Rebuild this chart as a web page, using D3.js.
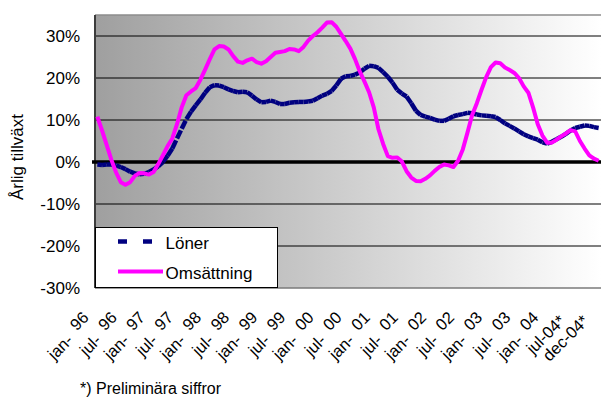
<!DOCTYPE html>
<html>
<head>
<meta charset="utf-8">
<script src="https://cdn.jsdelivr.net/npm/d3@7"></script>
<style>
  body { margin: 0; background: #fff; }
  svg { display: block; }
  text { font-family: "Liberation Sans", Arial, sans-serif; fill: #000; }
</style>
</head>
<body>
<svg id="chart" width="601" height="398"></svg>
<script>
// Monthly categories, jan 1996 – dec 2004
const months = d3.timeMonth.range(new Date(1996, 0, 1), new Date(2005, 0, 1));

// Annual growth, percent
const loner = [
  -0.6, -0.7, -0.6, -0.6, -0.8, -1.2, -1.7, -2.3, -2.7, -2.9, -2.8, -2.4,
  -1.8, -1.0, 0.0, 1.5, 3.2, 5.6, 7.9, 10.2, 12.0, 13.5, 14.9, 16.5,
  17.8, 18.3, 18.2, 17.8, 17.3, 16.9, 16.6, 16.7, 16.6, 15.8, 14.9, 14.2,
  14.3, 14.6, 14.3, 13.8, 13.8, 14.1, 14.2, 14.3, 14.3, 14.4, 14.6, 15.2,
  15.8, 16.2, 16.9, 18.2, 19.8, 20.4, 20.5, 20.8, 21.3, 22.2, 22.9, 22.8,
  22.4, 21.4, 20.3, 18.9, 17.2, 16.3, 15.6, 14.0, 12.2, 11.2, 10.8, 10.5,
  10.1, 9.8, 9.8, 10.3, 10.9, 11.2, 11.4, 11.7, 11.6, 11.3, 11.1, 11.0,
  10.9, 10.7, 10.0, 9.2, 8.6, 8.0, 7.3, 6.6, 6.1, 5.7, 5.3, 4.7,
  4.4, 4.8, 5.4, 6.0, 6.7, 7.5, 8.1, 8.4, 8.7, 8.6, 8.3, 8.1
];
const omsattning = [
  10.8, 7.5, 4.0, 0.5, -2.5, -4.8, -5.4, -4.8, -3.3, -2.6, -2.7, -3.0,
  -2.4, -0.5, 1.6, 3.8, 5.6, 9.0, 13.0, 15.9, 16.8, 17.6, 19.6, 22.0,
  24.5, 26.8, 27.6, 27.5, 26.8, 25.2, 23.9, 23.6, 24.2, 24.6, 23.8, 23.4,
  24.0, 25.0, 26.0, 26.2, 26.4, 26.9, 26.8, 26.4, 27.4, 28.9, 30.0, 30.9,
  32.0, 33.2, 33.3, 32.2, 30.5, 28.8, 27.0, 24.5, 21.6, 19.2, 16.6, 13.0,
  7.8, 4.3, 1.4, 1.0, 1.1, 0.1, -2.2, -3.7, -4.5, -4.6, -4.0, -3.2,
  -2.1, -1.2, -0.6, -0.8, -1.2, 0.3, 3.0, 7.0, 11.2, 14.0, 17.2, 20.2,
  22.6, 23.7, 23.5, 22.5, 21.9, 21.2, 20.0, 18.0, 16.5, 13.0, 9.0, 6.3,
  4.6, 4.6, 5.3, 6.1, 6.8, 7.6, 7.3, 5.0, 3.2, 1.6, 0.8, 0.3
];

// Axis labels
const tickIndex = [0, 6, 12, 18, 24, 30, 36, 42, 48, 54, 60, 66, 72, 78, 84, 90, 96, 102, 107];
const tickLabels = [
  "jan- 96", "jul- 96", "jan- 97", "jul- 97", "jan- 98", "jul- 98", "jan- 99", "jul- 99",
  "jan- 00", "jul- 00", "jan- 01", "jul- 01", "jan- 02", "jul- 02", "jan- 03", "jul- 03",
  "jan- 04", "jul-04*", "dec-04*"
];
const yTicks = [-30, -20, -10, 0, 10, 20, 30];
const seriesNames = ["Löner", "Omsättning"];

const svg = d3.select("#chart");
const P = { left: 95, right: 601, top: 15, bottom: 288 };

const x = d3.scalePoint().domain(d3.range(months.length)).range([P.left, P.right]).padding(0.5);
const y = d3.scaleLinear().domain([-30, 35]).range([P.bottom, P.top]);

// Plot background: horizontal grey-to-white fade
const grad = svg.append("defs").append("linearGradient")
  .attr("id", "bg").attr("gradientUnits", "userSpaceOnUse")
  .attr("x1", P.left).attr("x2", P.right).attr("y1", 0).attr("y2", 0);
grad.append("stop").attr("offset", 0).attr("stop-color", "#9f9f9f");
grad.append("stop").attr("offset", 1).attr("stop-color", "#ffffff");

svg.append("rect")
  .attr("x", P.left).attr("y", P.top)
  .attr("width", P.right - P.left + 10).attr("height", P.bottom - P.top)
  .attr("fill", "url(#bg)");

// Gridlines
svg.append("g").selectAll("line")
  .data(yTicks.filter(v => v !== 0 && v !== -30))
  .join("line")
  .attr("x1", P.left).attr("x2", P.right)
  .attr("y1", d => y(d)).attr("y2", d => y(d))
  .attr("stroke", "#000").attr("stroke-width", 1);

// Frame
svg.append("line").attr("x1", P.left).attr("x2", P.right)
  .attr("y1", P.top).attr("y2", P.top)
  .attr("stroke", "#8c8c8c").attr("stroke-width", 1.5);
svg.append("line").attr("x1", P.left).attr("x2", P.right)
  .attr("y1", P.bottom).attr("y2", P.bottom)
  .attr("stroke", "#7a7a7a").attr("stroke-width", 1.5);
svg.append("line").attr("x1", P.left).attr("x2", P.left)
  .attr("y1", P.top).attr("y2", P.bottom)
  .attr("stroke", "#3c3c3c").attr("stroke-width", 2);

// Zero line (category axis)
svg.append("line").attr("x1", P.left - 3).attr("x2", P.right)
  .attr("y1", y(0)).attr("y2", y(0))
  .attr("stroke", "#000").attr("stroke-width", 3.5);

// Y tick labels
svg.append("g").selectAll("text")
  .data(yTicks).join("text")
  .attr("x", 80).attr("y", d => y(d) + 6)
  .attr("text-anchor", "end")
  .style("font-size", "17px")
  .text(d => d + "%");

// Y title
svg.append("text")
  .attr("transform", "translate(23,157) rotate(-90)")
  .attr("text-anchor", "middle")
  .style("font-size", "17px")
  .text("Årlig tillväxt");

// X tick labels, rotated; the year part sits slightly raised after a gap
const xl = svg.append("g").selectAll("text")
  .data(tickIndex.map((idx, k) => ({ idx, label: tickLabels[k] })))
  .join("text")
  .attr("transform", d => {
    const shift = d.label.includes(" ") ? 4 : 9;
    return `translate(${x(d.idx) - shift},322) rotate(-45)`;
  })
  .attr("text-anchor", "end")
  .style("font-size", "16.5px");
xl.each(function(d) {
  const t = d3.select(this);
  const parts = d.label.split(" ");
  if (parts.length === 2) {
    t.append("tspan").text(parts[0]);
    t.append("tspan").attr("dx", 9).attr("dy", -5).text(parts[1]);
  } else {
    t.text(d.label);
  }
});

// Löner: dashed, pattern restarting on every monthly segment
const lonerPts = loner.map((v, i) => [x(i), y(v)]);
svg.append("g").selectAll("line")
  .data(d3.pairs(lonerPts)).join("line")
  .attr("x1", d => d[0][0]).attr("y1", d => d[0][1])
  .attr("x2", d => d[1][0]).attr("y2", d => d[1][1])
  .attr("stroke", "#000080").attr("stroke-width", 4.5)
  .attr("stroke-dasharray", "9,16");

// Omsättning: solid magenta
svg.append("path")
  .datum(omsattning)
  .attr("d", d3.line().x((d, i) => x(i)).y(d => y(d)))
  .attr("fill", "none").attr("stroke", "#ff00ff")
  .attr("stroke-width", 4).attr("stroke-linejoin", "round");

// Legend
const lg = svg.append("g");
lg.append("rect").attr("x", 95.5).attr("y", 227.5).attr("width", 182).attr("height", 60)
  .attr("fill", "#fff").attr("stroke", "#000").attr("stroke-width", 1);
lg.append("line").attr("x1", 118).attr("x2", 163).attr("y1", 241.5).attr("y2", 241.5)
  .attr("stroke", "#000080").attr("stroke-width", 4.5).attr("stroke-dasharray", "9,16");
lg.append("line").attr("x1", 118).attr("x2", 163).attr("y1", 271.5).attr("y2", 271.5)
  .attr("stroke", "#ff00ff").attr("stroke-width", 4);
lg.append("text").attr("x", 165.5).attr("y", 249).style("font-size", "17px").text(seriesNames[0]);
lg.append("text").attr("x", 165.5).attr("y", 279).style("font-size", "17px").text(seriesNames[1]);

// Footnote
svg.append("text").attr("x", 80).attr("y", 394)
  .style("font-size", "16px")
  .text("*) Preliminära siffror");
</script>
</body>
</html>
